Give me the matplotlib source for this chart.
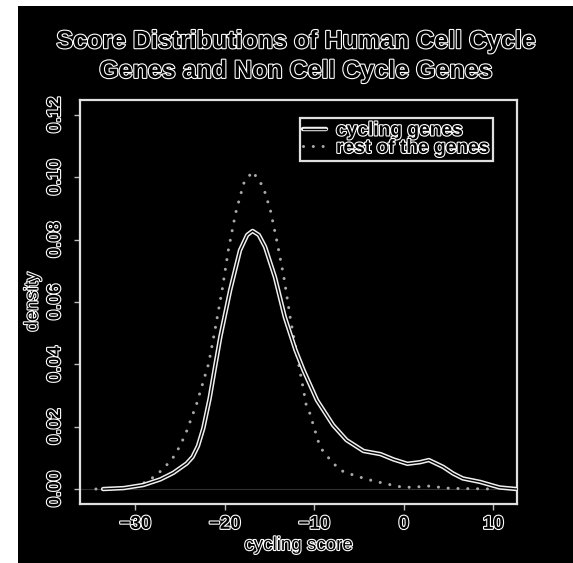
import matplotlib
matplotlib.use("Agg")
import matplotlib.pyplot as plt
import matplotlib.patheffects as pe
from matplotlib.patches import Rectangle

plt.rcParams.update({
    "font.family": "Liberation Sans",
    "font.weight": "bold",
    "font.size": 13.5,
})

# density of cycling genes (solid)
cyc_x = [-33.6, -31.3, -29.1, -27.2, -25.75, -24.26, -23.6, -23.0, -22.4, -21.7,
         -21.1, -20.5, -19.4, -18.3, -17.5, -16.9, -16.2, -15.5, -14.4, -13.3,
         -12.1, -11.2, -9.7, -7.9, -6.4, -4.5, -2.6, -1.15, 0.4, 1.8,
         2.8, 4.4, 5.5, 6.6, 8.5, 10.7, 12.6]
cyc_y = [0.0, 0.0003, 0.0013, 0.0031, 0.0052, 0.0082, 0.0103, 0.0138, 0.0195, 0.029,
         0.039, 0.0488, 0.0638, 0.0766, 0.0815, 0.0828, 0.0815, 0.0777, 0.068, 0.0552,
         0.0446, 0.0381, 0.0285, 0.0205, 0.0157, 0.0122, 0.0112, 0.0095, 0.0081, 0.0086,
         0.0093, 0.0071, 0.0050, 0.0034, 0.0023, 0.0005, 0.0]

# density of the rest of the genes (dotted)
rest_x = [-34.4, -32.0, -30.0, -29.3, -28.5, -27.8, -27.1, -26.5, -25.9, -25.45,
          -25.0, -24.3, -23.7, -23.1, -22.8, -21.8, -21.1, -20.3, -19.6, -18.8,
          -17.9, -16.9, -15.7, -14.9, -14.2, -13.4, -12.7, -11.9, -11.2, -10.9,
          -10.5, -10.0, -9.5, -9.1, -8.6, -8.0, -7.4, -6.7, -5.0, -3.4,
          -1.7, 0.0, 1.6, 2.6, 5.2, 8.0, 10.4]
rest_y = [0.0, 0.0002, 0.0008, 0.0016, 0.0027, 0.0042, 0.0059, 0.0077, 0.0095, 0.0117,
          0.0138, 0.0183, 0.023, 0.0277, 0.0307, 0.0403, 0.051, 0.0638, 0.0767, 0.0884,
          0.098, 0.1019, 0.0969, 0.0894, 0.0798, 0.068, 0.0552, 0.0424, 0.0317, 0.0269,
          0.0243, 0.0195, 0.0148, 0.0125, 0.0106, 0.0088, 0.0068, 0.0055, 0.0039, 0.0026,
          0.0015, 0.0005, 0.0007, 0.001, 0.0002, 0.0001, 0.0]

x_ticks = [-30, -20, -10, 0, 10]
y_ticks = [0.00, 0.02, 0.04, 0.06, 0.08, 0.10, 0.12]

OUTLINE = [pe.withStroke(linewidth=1.6, foreground="white")]


def outline(t):
    t.set_color("black")
    t.set_path_effects(OUTLINE)


fig = plt.figure(figsize=(5.73, 5.63), dpi=100, facecolor="white")
# black panel, white strip on the left and top
fig.patches.append(Rectangle((18 / 573, 0), 1, 1 - 6 / 563, transform=fig.transFigure,
                             facecolor="black", edgecolor="none", zorder=-10))

ax = fig.add_axes([80 / 573, 1 - 504 / 563, 437 / 573, 404 / 563])
ax.set_facecolor("black")

ax.axhline(0, color="#303030", lw=0.8, zorder=1)
ax.plot(cyc_x, cyc_y, color="black", lw=1.0, solid_capstyle="round",
        solid_joinstyle="round",
        path_effects=[pe.Stroke(linewidth=3.2, foreground="#f0f0f0"), pe.Normal()],
        label="cycling genes", zorder=3)
ax.plot(rest_x, rest_y, color="#a8a8a8", lw=2.2, linestyle=(0, (0.01, 3.2)),
        dash_capstyle="round", label="rest of the genes", zorder=2)

ax.set_xlim(-36.18, 12.65)
ax.set_ylim(-0.0048, 0.1248)
ax.set_xticks(x_ticks)
ax.set_xticklabels([str(v).replace("-", "\u2212") for v in x_ticks])
ax.set_yticks(y_ticks)
ax.set_yticklabels([f"{v:.2f}" for v in y_ticks], rotation=90, va="center")

for s in ax.spines.values():
    s.set_color("#e0e0e0")
    s.set_linewidth(1.6)
ax.tick_params(axis="both", direction="out", length=4.5, width=1.0, color="#bbbbbb",
               labelsize=13.5)
ax.tick_params(axis="x", pad=4)
ax.tick_params(axis="y", pad=7)
for t in ax.get_xticklabels() + ax.get_yticklabels():
    outline(t)

xl = ax.set_xlabel("cycling score", fontsize=13.5, labelpad=3)
yl = ax.set_ylabel("density", fontsize=13.5, labelpad=4)
outline(xl)
outline(yl)

title = fig.text(296 / 573, 1 - 56 / 563,
                 "Score Distributions of Human Cell Cycle\nGenes and Non Cell Cycle Genes",
                 ha="center", va="center", fontsize=18, linespacing=1.3)
outline(title)

leg = ax.legend(loc="upper right", bbox_to_anchor=(0.945, 0.955), fontsize=13.8,
                handlelength=1.2, handletextpad=0.5, labelspacing=0.0,
                borderpad=0.2, borderaxespad=0, fancybox=False, framealpha=1)
leg.get_frame().set_facecolor("black")
leg.get_frame().set_edgecolor("#e0e0e0")
leg.get_frame().set_linewidth(1.6)
for t in leg.get_texts():
    outline(t)

fig.savefig("out.png", dpi=100, facecolor=fig.get_facecolor())
